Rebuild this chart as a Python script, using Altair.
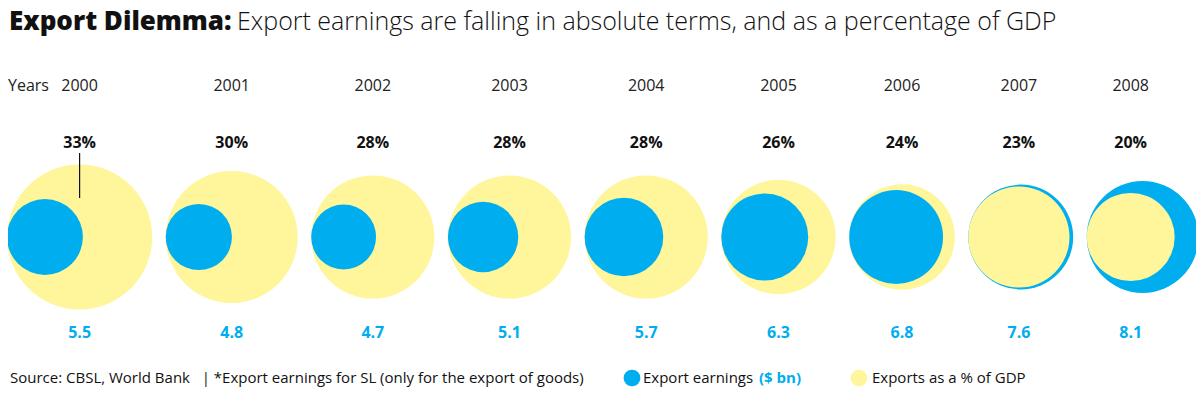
import altair as alt
import pandas as pd

# ---------------- data ----------------
years = ["2000", "2001", "2002", "2003", "2004", "2005", "2006", "2007", "2008"]
export_bn = [5.5, 4.8, 4.7, 5.1, 5.7, 6.3, 6.8, 7.6, 8.1]      # export earnings, $ bn
pct_gdp = [33, 30, 28, 28, 28, 26, 24, 23, 20]                 # exports as % of GDP

# ---------------- style / layout ----------------
BLUE = "#00AEEF"
YELLOW = "#FFF59B"
INK = "#111111"
FONT = "Open Sans"

W, H = 1188, 380
PX_PER_PCT = 2.2     # circle radius (px) per 1 % of GDP
PX_PER_BN = 6.9      # circle radius (px) per $1 bn
GAP = 13.5           # gap between neighbouring circle groups
X0 = -1              # left edge of first circle group
CY = 229             # vertical centre of circles
PCT_MAX, BN_MAX = 40, 10

pct_scale = alt.Scale(type="pow", exponent=2, domain=[0, PCT_MAX],
                      range=[0, (2 * PX_PER_PCT * PCT_MAX) ** 2])
bn_scale = alt.Scale(type="pow", exponent=2, domain=[0, BN_MAX],
                     range=[0, (2 * PX_PER_BN * BN_MAX) ** 2])
x_scale = alt.Scale(domain=[0, W], nice=False, zero=False)

# pack circle groups left to right, both circles tangent at the left edge
rows = []
left = X0
for y, bn, p in zip(years, export_bn, pct_gdp):
    ry, rb = PX_PER_PCT * p, PX_PER_BN * bn
    rows.append(dict(year=y, bn=bn, pct=p,
                     x_pct=left + ry, x_bn=left + rb,
                     blue_big=bool(rb > ry),
                     pct_label=f"{p}%", bn_label=f"{bn:.1f}"))
    left += 2 * max(ry, rb) + GAP
df = pd.DataFrame(rows)

base = alt.Chart(df)

blue_back = base.transform_filter("datum.blue_big").mark_circle(
    color=BLUE, opacity=1).encode(
    x=alt.X("x_bn:Q", scale=x_scale, axis=None),
    y=alt.value(CY),
    size=alt.Size("bn:Q", scale=bn_scale, legend=None))

yellow = base.mark_circle(color=YELLOW, opacity=1).encode(
    x=alt.X("x_pct:Q", scale=x_scale, axis=None),
    y=alt.value(CY),
    size=alt.Size("pct:Q", scale=pct_scale, legend=None))

blue_front = base.transform_filter("!datum.blue_big").mark_circle(
    color=BLUE, opacity=1).encode(
    x=alt.X("x_bn:Q", scale=x_scale, axis=None),
    y=alt.value(CY),
    size=alt.Size("bn:Q", scale=bn_scale, legend=None))

year_text = base.mark_text(font=FONT, fontSize=16, fontWeight=400, color="#222222").encode(
    x=alt.X("x_pct:Q", scale=x_scale, axis=None), y=alt.value(78), text="year:N")

pct_text = base.mark_text(font=FONT, fontSize=16, fontWeight="bold", color=INK).encode(
    x=alt.X("x_pct:Q", scale=x_scale, axis=None), y=alt.value(135), text="pct_label:N")

bn_text = base.mark_text(font=FONT, fontSize=16, fontWeight="bold", color=BLUE).encode(
    x=alt.X("x_pct:Q", scale=x_scale, axis=None), y=alt.value(325), text="bn_label:N")

leader = base.transform_filter("datum.year == '2000'").mark_rule(
    color=INK, strokeWidth=1.2).encode(
    x=alt.X("x_pct:Q", scale=x_scale, axis=None),
    y=alt.value(145), y2=alt.value(190))


def label(text, x, y, size, weight=400, color=INK, baseline="middle"):
    return alt.Chart(pd.DataFrame({"t": [text]})).mark_text(
        align="left", baseline=baseline, font=FONT, fontSize=size,
        fontWeight=weight, color=color).encode(
        x=alt.value(x), y=alt.value(y), text="t:N")


def dot(x, y, color):
    return alt.Chart(pd.DataFrame({"t": [0]})).mark_circle(
        color=color, opacity=1, size=280).encode(x=alt.value(x), y=alt.value(y))


FY = 370  # footer line
title_bold = label("Export Dilemma:", 1, 1, 26, 800, baseline="top")
title_light = label("Export earnings are falling in absolute terms, and as a percentage of GDP",
                    229, 2, 25, 300, baseline="top")
years_lbl = label("Years", 0, 78, 16, 400, "#222222")
footer = label("Source: CBSL, World Bank\u00a0\u00a0\u00a0| *Export earnings for SL (only for the export of goods)",
               2, FY, 15, 400)
leg_b = dot(624, FY, BLUE)
leg_b_txt = label("Export earnings", 635, FY, 15, 400)
leg_b_unit = label("($ bn)", 751, FY, 15, 700, BLUE)
leg_y = dot(851, FY, YELLOW)
leg_y_txt = label("Exports as a % of GDP", 864, FY, 15, 400)

chart = alt.layer(
    blue_back, yellow, blue_front, leader, year_text, pct_text, bn_text,
    title_bold, title_light, years_lbl, footer,
    leg_b, leg_b_txt, leg_b_unit, leg_y, leg_y_txt,
).resolve_scale(size="independent").properties(
    width=W, height=H, padding=0, autosize=alt.AutoSizeParams(type="none"),
    background="white",
).configure_view(stroke=None)

chart.save("out.html", embed_options={"renderer": "svg", "actions": False})
